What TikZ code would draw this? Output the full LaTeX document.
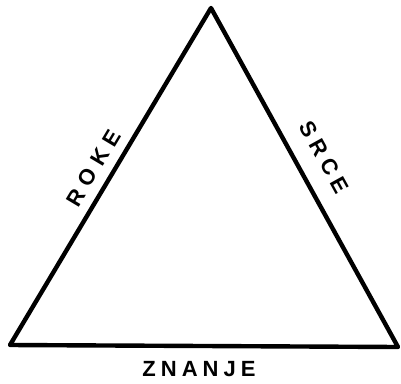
\documentclass[tikz,border=0pt]{standalone}
\usepackage{fontspec}
\newfontfamily\labelfont{Liberation Sans}
\begin{document}
\begin{tikzpicture}[x=1pt,y=-1pt,
  side/.style={line width=4.4pt,line join=round,line cap=round},
  lbl/.style={font=\labelfont\bfseries\fontsize{22}{22}\selectfont,inner sep=0pt}]
\useasboundingbox (0,0) rectangle (401,383);
\coordinate (top) at (211,8);
\coordinate (bl) at (10,345);
\coordinate (br) at (398,347);
\draw[side] (bl) -- (top) -- (br) -- cycle;
\path (bl) -- (top) node[lbl,pos=0.496,sloped,above=11pt] (roke) {R\kern7pt O\kern7pt K\kern7pt E};
\path (top) -- (br) node[lbl,pos=0.479,sloped,above=19pt] (srce) {S\kern6pt R\kern6pt C\kern6pt E};
\node[lbl] (znanje) at (199,369.5) {Z\kern5pt N\kern5pt A\kern5pt N\kern5pt J\kern5pt E};
\end{tikzpicture}
\end{document}
